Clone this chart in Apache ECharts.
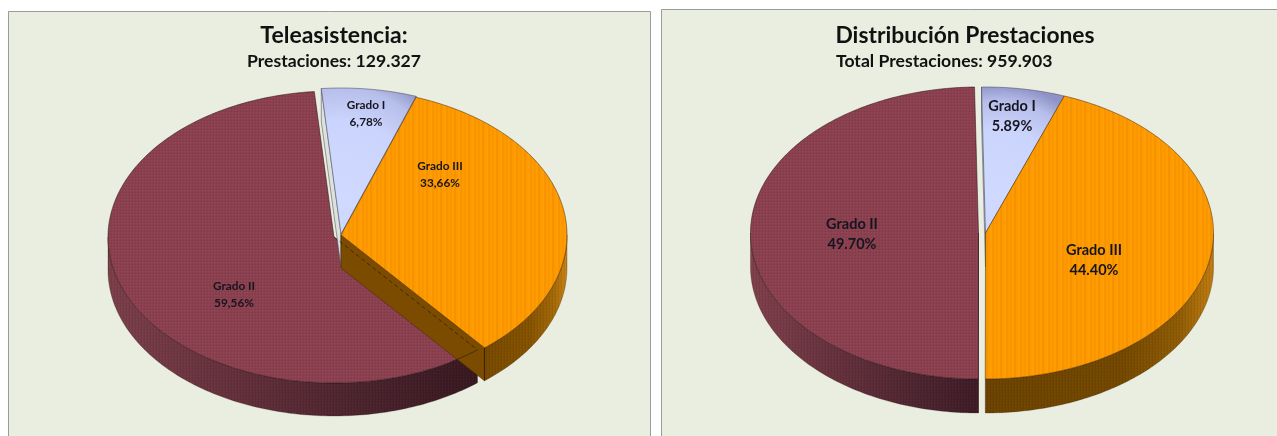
<!DOCTYPE html>
<html>
<head>
<meta charset="utf-8">
<style>html,body{margin:0;padding:0;background:#fff;overflow:hidden}#chart{width:1277px;height:436px}</style>
<script src="https://cdn.jsdelivr.net/npm/echarts@6/dist/echarts.min.js"></script>
</head>
<body>
<div id="chart"></div>
<script>
// Slices in clockwise order from the top of each pie.
const categories = ['Grado I', 'Grado III', 'Grado II'];
const teleasistenciaValues = [6.78, 33.66, 59.56];
const distribucionValues = [5.89, 44.40, 49.70];
const chartTitles = ['Teleasistencia:', 'Distribución Prestaciones'];
const chartSubtitles = ['Prestaciones: 129.327', 'Total Prestaciones: 959.903'];

// Tiled surface textures for the slice tops and walls.
function tile(w, h, paint) {
  const c = document.createElement('canvas');
  c.width = w; c.height = h;
  paint(c.getContext('2d'));
  return { image: c, repeat: 'repeat' };
}
const orangeTop = tile(14, 2, g => {
  const cols = ['#FF9900', '#FA9600', '#FF9C00', '#F59200', '#FF9900', '#FF9E04', '#F89400'];
  cols.forEach((col, i) => { g.fillStyle = col; g.fillRect(i * 2, 0, 2, 2); });
});
const maroonTop = tile(3, 3, g => {
  g.fillStyle = '#8A404F'; g.fillRect(0, 0, 3, 3);
  g.fillStyle = '#7E3946'; g.fillRect(0, 0, 1, 1);
  g.fillStyle = '#93495A'; g.fillRect(1, 1, 1, 1);
});
const wallGrain = tile(3, 3, g => {
  g.fillStyle = 'rgba(0,0,0,0.06)'; g.fillRect(0, 0, 1, 3);
  g.fillStyle = 'rgba(255,255,255,0.04)'; g.fillRect(1, 1, 1, 1);
});
const lilacTop = {
  type: 'radial', x: 0.2, y: 0.75, r: 1.35,
  colorStops: [
    { offset: 0, color: '#D0D9FF' },
    { offset: 0.6, color: '#CBD4FC' },
    { offset: 0.85, color: '#B6BEEA' },
    { offset: 1, color: '#8E92C6' }
  ]
};
function sideFill(stops) {
  return {
    type: 'linear', x: 0, y: 0, x2: 1, y2: 0,
    colorStops: stops.map(s => ({ offset: s[0], color: s[1] }))
  };
}

// Look of each category; "order" sets the painting order of the slices.
const sliceLook = {
  'Grado I': { top: lilacTop, edge: 'rgba(70,70,90,0.75)', cut: '#DCE2DA', order: 2 },
  'Grado III': { top: orangeTop, edge: 'rgba(70,40,0,0.75)', cut: '#7B4B00', order: 3 },
  'Grado II': { top: maroonTop, edge: 'rgba(40,15,20,0.75)', cut: '#4A232D', order: 1 }
};

const pies = [
  {
    values: teleasistenciaValues, startAngle: -5, decimal: ',', fontSize: 11.8, depth: 33,
    rx: 226, ry: 146, seam: true,
    centers: { 'Grado I': [341, 234], 'Grado III': [341, 235], 'Grado II': [334, 237] },
    labels: { 'Grado I': [366, 114], 'Grado III': [440, 175], 'Grado II': [234, 295] },
    lineGap: 17,
    sides: {
      'Grado II': [[0, '#7C3F4A'], [0.35, '#63303B'], [0.7, '#4A232D'], [1, '#381820']],
      'Grado III': [[0, '#774900'], [0.55, '#855300'], [0.85, '#A56A08'], [1, '#C98314']]
    }
  },
  {
    values: distribucionValues, startAngle: -1, decimal: '.', fontSize: 14.5, depth: 34,
    rx: 228, ry: 146, seam: false,
    centers: { 'Grado I': [985.5, 233], 'Grado III': [985.5, 233], 'Grado II': [978.5, 233] },
    labels: { 'Grado I': [1012, 116], 'Grado III': [1094, 260], 'Grado II': [852, 234] },
    lineGap: 20,
    sides: {
      'Grado II': [[0, '#80404B'], [0.3, '#6A3440'], [0.7, '#4F2631'], [1, '#3E1C25']],
      'Grado III': [[0, '#6B4300'], [0.6, '#744800'], [0.85, '#8F5C04'], [1, '#C07C10']]
    }
  }
];

const rad = d => d * Math.PI / 180;

function makeRenderItem(pie) {
  const total = pie.values.reduce((a, b) => a + b, 0);
  return function (params, api) {
    const i = params.dataIndex;
    const value = api.value(0);
    const name = categories[i];
    const look = sliceLook[name];
    let before = 0;
    for (let k = 0; k < i; k++) before += pie.values[k];
    const a0 = pie.startAngle + before / total * 360;
    const a1 = a0 + value / total * 360;
    const c = pie.centers[name];
    const pt = (a, dy) => [c[0] + pie.rx * Math.sin(rad(a)), c[1] - pie.ry * Math.cos(rad(a)) + (dy || 0)];
    const arc = (from, to, dy) => {
      const out = [], n = Math.max(2, Math.ceil(Math.abs(to - from)));
      for (let s = 0; s <= n; s++) out.push(pt(from + (to - from) * s / n, dy));
      return out;
    };
    const d = pie.depth;
    const base = look.order * 10;
    const kids = [];

    // Cut faces between the centre and the rim.
    const addCut = a => {
      const rim = pt(a);
      kids.push({
        type: 'polygon', z2: base,
        shape: { points: [c, rim, [rim[0], rim[1] + d], [c[0], c[1] + d]] },
        style: { fill: look.cut, stroke: look.edge, lineWidth: 0.7 }
      });
    };
    if (Math.sin(rad(a0)) < 0) addCut(a0);
    if (Math.sin(rad(a1)) > 0) addCut(a1);

    // Outer wall on the near half of the rim.
    const lo = Math.max(a0, 90), hi = Math.min(a1, 270);
    if (hi > lo) {
      const wall = arc(lo, hi, 0).concat(arc(hi, lo, d));
      kids.push({
        type: 'polygon', z2: base + 1,
        shape: { points: wall },
        style: { fill: sideFill(pie.sides[name]), stroke: 'rgba(40,20,10,0.45)', lineWidth: 0.6 }
      });
      kids.push({
        type: 'polygon', z2: base + 1,
        shape: { points: wall },
        style: { fill: wallGrain }
      });
    }

    // Top surface.
    kids.push({
      type: 'polygon', z2: base + 2,
      shape: { points: [c].concat(arc(a0, a1, 0)) },
      style: { fill: look.top, stroke: look.edge, lineWidth: 0.7 }
    });

    // Edge of the larger slice showing through the neighbouring cut face.
    if (pie.seam && name === 'Grado II') {
      kids.push({
        type: 'polyline', z2: 60,
        shape: { points: [c, pt(a0)] },
        style: { fill: 'none', stroke: 'rgba(40,20,0,0.8)', lineWidth: 0.8, lineDash: [4, 3] }
      });
      kids.push({
        type: 'polyline', z2: 60,
        shape: { points: arc(a0, a0 + 8, 0) },
        style: { fill: 'none', stroke: 'rgba(40,20,0,0.7)', lineWidth: 0.8 }
      });
    }
    if (pie.seam && name === 'Grado III') {
      const tip = pt(a1);
      kids.push({
        type: 'polyline', z2: 61,
        shape: { points: [tip, [tip[0], tip[1] + d]] },
        style: { fill: 'none', stroke: 'rgba(40,20,0,0.85)', lineWidth: 0.8 }
      });
    }

    // Two-line slice label stating its value.
    const lp = pie.labels[name];
    const pct = value.toFixed(2).replace('.', pie.decimal) + '%';
    [name, pct].forEach((line, n) => {
      kids.push({
        type: 'text', z2: 80,
        style: {
          x: lp[0], y: lp[1] + (n - 0.5) * pie.lineGap,
          text: line, align: 'center', verticalAlign: 'middle',
          font: 'bold ' + pie.fontSize + 'px Lato',
          fill: '#15151F'
        }
      });
    });
    return { type: 'group', children: kids };
  };
}

const titleFont = { fontFamily: 'Lato', fontWeight: 'bold', color: '#111' };

const option = {
  backgroundColor: '#ffffff',
  animation: false,
  title: [
    { text: chartTitles[0], left: 334, top: 24, padding: 0, textAlign: 'center', textStyle: Object.assign({ fontSize: 23 }, titleFont) },
    { text: chartSubtitles[0], left: 334, top: 52, padding: 0, textAlign: 'center', textStyle: Object.assign({ fontSize: 17.6 }, titleFont) },
    { text: chartTitles[1], left: 965, top: 24, padding: 0, textAlign: 'center', textStyle: Object.assign({ fontSize: 22.8 }, titleFont) },
    { text: chartSubtitles[1], left: 836, top: 52, padding: 0, textAlign: 'left', textStyle: Object.assign({ fontSize: 17.6 }, titleFont) }
  ],
  graphic: [
    { type: 'rect', z: -1, shape: { x: 8.5, y: 11.5, width: 642, height: 440 }, style: { fill: '#EAEEE0', stroke: '#9A9C96', lineWidth: 1 } },
    { type: 'rect', z: -1, shape: { x: 661.5, y: 9.5, width: 640, height: 440 }, style: { fill: '#EAEEE0', stroke: '#9A9C96', lineWidth: 1 } }
  ],
  series: pies.map(pie => ({
    type: 'custom',
    coordinateSystem: 'none',
    silent: true,
    data: pie.values.map(v => [v]),
    renderItem: makeRenderItem(pie)
  }))
};

echarts.init(document.getElementById('chart'), null, { renderer: 'canvas' }).setOption(option);
</script>
</body>
</html>
